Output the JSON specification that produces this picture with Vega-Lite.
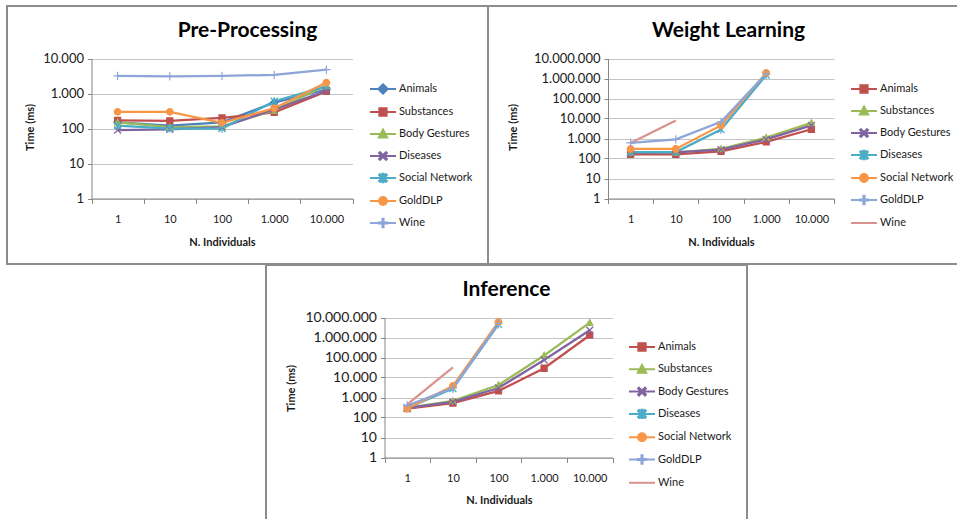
{
  "$schema": "https://vega.github.io/schema/vega-lite/v6.json",
  "padding": {"left": 6, "top": 5, "right": 0, "bottom": 0},
  "spacing": -1,
  "config": {
    "font": "Lato",
    "view": {"stroke": "#8c8c8c", "strokeWidth": 2},
    "axis": {"labelFont": "Lato", "titleFont": "Lato", "labelColor": "#1a1a1a", "titleColor": "#1a1a1a", "domainColor": "#868686", "tickColor": "#868686", "gridColor": "#c4c4c4", "domainWidth": 1, "gridWidth": 1},
    "legend": {"labelFont": "Lato", "labelFontSize": 11, "labelColor": "#1a1a1a"}
  },
  "datasets": {
    "pre": [
      {"series": "Animals", "n": 1, "time": 150}, {"series": "Animals", "n": 10, "time": 120}, {"series": "Animals", "n": 100, "time": 150}, {"series": "Animals", "n": 1000, "time": 550}, {"series": "Animals", "n": 10000, "time": 1300},
      {"series": "Substances", "n": 1, "time": 170}, {"series": "Substances", "n": 10, "time": 165}, {"series": "Substances", "n": 100, "time": 200}, {"series": "Substances", "n": 1000, "time": 290}, {"series": "Substances", "n": 10000, "time": 1150},
      {"series": "Body Gestures", "n": 1, "time": 150}, {"series": "Body Gestures", "n": 10, "time": 110}, {"series": "Body Gestures", "n": 100, "time": 115}, {"series": "Body Gestures", "n": 1000, "time": 330}, {"series": "Body Gestures", "n": 10000, "time": 1700},
      {"series": "Diseases", "n": 1, "time": 90}, {"series": "Diseases", "n": 10, "time": 95}, {"series": "Diseases", "n": 100, "time": 110}, {"series": "Diseases", "n": 1000, "time": 350}, {"series": "Diseases", "n": 10000, "time": 1200},
      {"series": "Social Network", "n": 1, "time": 120}, {"series": "Social Network", "n": 10, "time": 100}, {"series": "Social Network", "n": 100, "time": 100}, {"series": "Social Network", "n": 1000, "time": 600}, {"series": "Social Network", "n": 10000, "time": 1600},
      {"series": "GoldDLP", "n": 1, "time": 300}, {"series": "GoldDLP", "n": 10, "time": 300}, {"series": "GoldDLP", "n": 100, "time": 145}, {"series": "GoldDLP", "n": 1000, "time": 380}, {"series": "GoldDLP", "n": 10000, "time": 2050},
      {"series": "Wine", "n": 1, "time": 3200}, {"series": "Wine", "n": 10, "time": 3100}, {"series": "Wine", "n": 100, "time": 3200}, {"series": "Wine", "n": 1000, "time": 3400}, {"series": "Wine", "n": 10000, "time": 4800}
    ],
    "weight": [
      {"series": "Animals", "n": 1, "time": 160}, {"series": "Animals", "n": 10, "time": 160}, {"series": "Animals", "n": 100, "time": 230}, {"series": "Animals", "n": 1000, "time": 680}, {"series": "Animals", "n": 10000, "time": 2900},
      {"series": "Substances", "n": 1, "time": 200}, {"series": "Substances", "n": 10, "time": 200}, {"series": "Substances", "n": 100, "time": 300}, {"series": "Substances", "n": 1000, "time": 1100}, {"series": "Substances", "n": 10000, "time": 6000},
      {"series": "Body Gestures", "n": 1, "time": 190}, {"series": "Body Gestures", "n": 10, "time": 200}, {"series": "Body Gestures", "n": 100, "time": 280}, {"series": "Body Gestures", "n": 1000, "time": 900}, {"series": "Body Gestures", "n": 10000, "time": 4500},
      {"series": "Diseases", "n": 1, "time": 210}, {"series": "Diseases", "n": 10, "time": 210}, {"series": "Diseases", "n": 100, "time": 2800}, {"series": "Diseases", "n": 1000, "time": 1500000},
      {"series": "Social Network", "n": 1, "time": 300}, {"series": "Social Network", "n": 10, "time": 300}, {"series": "Social Network", "n": 100, "time": 4500}, {"series": "Social Network", "n": 1000, "time": 1900000},
      {"series": "GoldDLP", "n": 1, "time": 600}, {"series": "GoldDLP", "n": 10, "time": 900}, {"series": "GoldDLP", "n": 100, "time": 6800}, {"series": "GoldDLP", "n": 1000, "time": 1700000},
      {"series": "Wine", "n": 1, "time": 600}, {"series": "Wine", "n": 10, "time": 8000}
    ],
    "inf": [
      {"series": "Animals", "n": 1, "time": 280}, {"series": "Animals", "n": 10, "time": 520}, {"series": "Animals", "n": 100, "time": 2150}, {"series": "Animals", "n": 1000, "time": 29000}, {"series": "Animals", "n": 10000, "time": 1300000},
      {"series": "Substances", "n": 1, "time": 300}, {"series": "Substances", "n": 10, "time": 680}, {"series": "Substances", "n": 100, "time": 4200}, {"series": "Substances", "n": 1000, "time": 126000}, {"series": "Substances", "n": 10000, "time": 5500000},
      {"series": "Body Gestures", "n": 1, "time": 300}, {"series": "Body Gestures", "n": 10, "time": 600}, {"series": "Body Gestures", "n": 100, "time": 3000}, {"series": "Body Gestures", "n": 1000, "time": 75000}, {"series": "Body Gestures", "n": 10000, "time": 2300000},
      {"series": "Diseases", "n": 1, "time": 300}, {"series": "Diseases", "n": 10, "time": 2800}, {"series": "Diseases", "n": 100, "time": 4500000},
      {"series": "Social Network", "n": 1, "time": 280}, {"series": "Social Network", "n": 10, "time": 3800}, {"series": "Social Network", "n": 100, "time": 6000000},
      {"series": "GoldDLP", "n": 1, "time": 400}, {"series": "GoldDLP", "n": 10, "time": 3000}, {"series": "GoldDLP", "n": 100, "time": 5000000},
      {"series": "Wine", "n": 1, "time": 450}, {"series": "Wine", "n": 10, "time": 32000}
    ]
  },
  "resolve": {"scale": {"fill": "independent", "stroke": "independent", "shape": "independent"}, "legend": {"fill": "independent", "stroke": "independent", "shape": "independent"}},
  "vconcat": [
    {
      "hconcat": [
        {
          "width": 481, "height": 258,
          "data": {"name": "pre"},
          "title": {"text": "Pre-Processing", "frame": "group", "anchor": "middle", "offset": -52, "baseline": "alphabetic", "fontSize": 21, "font": "Lato", "fontWeight": "bold", "color": "#000"},
          "encoding": {
            "x": {"field": "n", "type": "ordinal", "bandPosition": 0.5,
              "scale": {"type": "band", "domain": [1, 10, 100, 1000, 10000], "range": [84.5, 345.5], "paddingInner": 0, "paddingOuter": 0},
              "axis": {"orient": "bottom", "offset": -65.5, "tickBand": "extent", "tickSize": 5, "labelPadding": 10, "labelAngle": 0, "labelFontSize": 11, "grid": false,
                "labelExpr": "!isValid(datum.value) || datum.extra ? '' : replace(replace(format(datum.value, ','), ',', '.'), ',', '.')",
                "title": "N. Individuals", "titleFontSize": 11, "titleFontWeight": "bold", "titleX": 215, "titleY": 44, "titleBaseline": "middle", "titleAlign": "center"}},
            "y": {"field": "time", "type": "quantitative",
              "scale": {"type": "log", "domain": [1, 10000], "range": [192.5, 52.5], "nice": false},
              "axis": {"orient": "left", "offset": -84.5, "values": [1, 10, 100, 1000, 10000], "grid": true, "tickSize": 4, "labelPadding": 4, "labelFontSize": 13,
                "labelExpr": "!isValid(datum.value) ? '' : replace(replace(format(datum.value, ','), ',', '.'), ',', '.')",
                "title": "Time (ms)", "titleFontSize": 11, "titleFontWeight": "bold", "titleX": -61.5, "titleY": 121, "titleAngle": 270, "titleAlign": "center", "titleBaseline": "middle"}}
          },
          "layer": [
            {"mark": {"type": "line", "strokeWidth": 2.25},
             "encoding": {"stroke": {"field": "series", "type": "nominal", "scale": {"domain": ["Animals", "Substances", "Body Gestures", "Diseases", "Social Network", "GoldDLP", "Wine"], "range": ["#4F81BD", "#C0504D", "#9BBB59", "#8064A2", "#4BACC6", "#F79646", "#8DA5D8"]},
               "legend": {"orient": "none", "legendX": 362, "legendY": 69, "title": null, "symbolSize": 676, "rowPadding": 0, "labelOffset": 2, "encode": {"symbols": {"update": {"strokeWidth": {"value": 2}}}}}}}},
            {"mark": {"type": "point", "filled": true, "strokeWidth": 0, "opacity": 1, "size": 676},
             "encoding": {
               "fill": {"field": "series", "type": "nominal", "scale": {"domain": ["Animals", "Substances", "Body Gestures", "Diseases", "Social Network", "GoldDLP", "Wine"], "range": ["#4F81BD", "#C0504D", "#9BBB59", "#8064A2", "#4BACC6", "#F79646", "#8DA5D8"]},
                 "legend": {"orient": "none", "legendX": 362, "legendY": 69, "title": null, "symbolSize": 676, "rowPadding": 0, "labelOffset": 2, "encode": {"symbols": {"update": {"strokeWidth": {"value": 2}}}}}},
               "stroke": {"field": "series", "type": "nominal", "scale": {"domain": ["Animals", "Substances", "Body Gestures", "Diseases", "Social Network", "GoldDLP", "Wine"], "range": ["#4F81BD", "#C0504D", "#9BBB59", "#8064A2", "#4BACC6", "#F79646", "#8DA5D8"]},
                 "legend": {"orient": "none", "legendX": 362, "legendY": 69, "title": null, "symbolSize": 676, "rowPadding": 0, "labelOffset": 2, "encode": {"symbols": {"update": {"strokeWidth": {"value": 2}}}}}},
               "shape": {"field": "series", "type": "nominal", "scale": {"domain": ["Animals", "Substances", "Body Gestures", "Diseases", "Social Network", "GoldDLP", "Wine"],
                 "range": ["M-1,0H1M0,-0.36L0.36,0L0,0.36L-0.36,0Z", "M-1,0H1M-0.28,-0.28H0.28V0.28H-0.28Z", "M-1,0H1M0,-0.34L0.32,0.26H-0.32Z", "M-1,0H1M-0.23,-0.3L0.3,0.23L0.23,0.3L-0.3,-0.23ZM0.23,-0.3L0.3,-0.23L-0.23,0.3L-0.3,0.23Z", "M-1,0H1M-0.23,-0.3L0.3,0.23L0.23,0.3L-0.3,-0.23ZM0.23,-0.3L0.3,-0.23L-0.23,0.3L-0.3,0.23ZM-0.045,-0.32H0.045V0.32H-0.045Z", "M-1,0H1M-0.3,0A0.3,0.3,0,1,0,0.3,0A0.3,0.3,0,1,0,-0.3,0Z", "M-1,0H1M-0.32,-0.045H0.32V0.045H-0.32ZM-0.045,-0.32H0.045V0.32H-0.045Z"]},
                 "legend": {"orient": "none", "legendX": 362, "legendY": 69, "title": null, "symbolSize": 676, "rowPadding": 0, "labelOffset": 2, "encode": {"symbols": {"update": {"strokeWidth": {"value": 2}}}}}}
             }}
          ]
        },
        {
          "width": 481, "height": 258,
          "data": {"name": "weight"},
          "title": {"text": "Weight Learning", "frame": "group", "anchor": "middle", "offset": -52, "baseline": "alphabetic", "fontSize": 21, "font": "Lato", "fontWeight": "bold", "color": "#000"},
          "encoding": {
            "x": {"field": "n", "type": "ordinal", "bandPosition": 0.5,
              "scale": {"type": "band", "domain": [1, 10, 100, 1000, 10000], "range": [120, 346], "paddingInner": 0, "paddingOuter": 0},
              "axis": {"orient": "bottom", "offset": -65.5, "tickBand": "extent", "tickSize": 5, "labelPadding": 10, "labelAngle": 0, "labelFontSize": 11, "grid": false,
                "labelExpr": "!isValid(datum.value) || datum.extra ? '' : replace(replace(format(datum.value, ','), ',', '.'), ',', '.')",
                "title": "N. Individuals", "titleFontSize": 11, "titleFontWeight": "bold", "titleX": 233, "titleY": 44, "titleBaseline": "middle", "titleAlign": "center"}},
            "y": {"field": "time", "type": "quantitative",
              "scale": {"type": "log", "domain": [1, 10000000], "range": [192.5, 52.5], "nice": false},
              "axis": {"orient": "left", "offset": -120, "values": [1, 10, 100, 1000, 10000, 100000, 1000000, 10000000], "grid": true, "tickSize": 4, "labelPadding": 4, "labelFontSize": 13,
                "labelExpr": "!isValid(datum.value) ? '' : replace(replace(format(datum.value, ','), ',', '.'), ',', '.')",
                "title": "Time (ms)", "titleFontSize": 11, "titleFontWeight": "bold", "titleX": -95, "titleY": 121, "titleAngle": 270, "titleAlign": "center", "titleBaseline": "middle"}}
          },
          "layer": [
            {"mark": {"type": "line", "strokeWidth": 2.25},
             "encoding": {"stroke": {"field": "series", "type": "nominal", "scale": {"domain": ["Animals", "Substances", "Body Gestures", "Diseases", "Social Network", "GoldDLP", "Wine"], "range": ["#C0504D", "#9BBB59", "#8064A2", "#4BACC6", "#F79646", "#8DA5D8", "#D9928F"]},
               "legend": {"orient": "none", "legendX": 362, "legendY": 69, "title": null, "symbolSize": 676, "rowPadding": 0, "labelOffset": 2, "encode": {"symbols": {"update": {"strokeWidth": {"value": 2}}}}}}}},
            {"mark": {"type": "point", "filled": true, "strokeWidth": 0, "opacity": 1, "size": 676},
             "encoding": {
               "fill": {"field": "series", "type": "nominal", "scale": {"domain": ["Animals", "Substances", "Body Gestures", "Diseases", "Social Network", "GoldDLP", "Wine"], "range": ["#C0504D", "#9BBB59", "#8064A2", "#4BACC6", "#F79646", "#8DA5D8", "#D9928F"]},
                 "legend": {"orient": "none", "legendX": 362, "legendY": 69, "title": null, "symbolSize": 676, "rowPadding": 0, "labelOffset": 2, "encode": {"symbols": {"update": {"strokeWidth": {"value": 2}}}}}},
               "stroke": {"field": "series", "type": "nominal", "scale": {"domain": ["Animals", "Substances", "Body Gestures", "Diseases", "Social Network", "GoldDLP", "Wine"], "range": ["#C0504D", "#9BBB59", "#8064A2", "#4BACC6", "#F79646", "#8DA5D8", "#D9928F"]},
                 "legend": {"orient": "none", "legendX": 362, "legendY": 69, "title": null, "symbolSize": 676, "rowPadding": 0, "labelOffset": 2, "encode": {"symbols": {"update": {"strokeWidth": {"value": 2}}}}}},
               "shape": {"field": "series", "type": "nominal", "scale": {"domain": ["Animals", "Substances", "Body Gestures", "Diseases", "Social Network", "GoldDLP", "Wine"],
                 "range": ["M-1,0H1M-0.28,-0.28H0.28V0.28H-0.28Z", "M-1,0H1M0,-0.34L0.32,0.26H-0.32Z", "M-1,0H1M-0.23,-0.3L0.3,0.23L0.23,0.3L-0.3,-0.23ZM0.23,-0.3L0.3,-0.23L-0.23,0.3L-0.3,0.23Z", "M-1,0H1M-0.23,-0.3L0.3,0.23L0.23,0.3L-0.3,-0.23ZM0.23,-0.3L0.3,-0.23L-0.23,0.3L-0.3,0.23ZM-0.045,-0.32H0.045V0.32H-0.045Z", "M-1,0H1M-0.3,0A0.3,0.3,0,1,0,0.3,0A0.3,0.3,0,1,0,-0.3,0Z", "M-1,0H1M-0.32,-0.045H0.32V0.045H-0.32ZM-0.045,-0.32H0.045V0.32H-0.045Z", "M-1,0H1"]},
                 "legend": {"orient": "none", "legendX": 362, "legendY": 69, "title": null, "symbolSize": 676, "rowPadding": 0, "labelOffset": 2, "encode": {"symbols": {"update": {"strokeWidth": {"value": 2}}}}}}
             }}
          ]
        }
      ],
      "spacing": 0,
      "bounds": "flush",
      "resolve": {"scale": {"fill": "independent", "stroke": "independent", "shape": "independent"}, "legend": {"fill": "independent", "stroke": "independent", "shape": "independent"}}
    },
    {
      "hconcat": [
        {"width": 259, "height": 258, "data": {"values": []}, "mark": "point", "view": {"stroke": null, "fill": "white"}},
        {
          "width": 481, "height": 258,
          "data": {"name": "inf"},
          "title": {"text": "Inference", "frame": "group", "anchor": "middle", "offset": -52, "baseline": "alphabetic", "fontSize": 21, "font": "Lato", "fontWeight": "bold", "color": "#000"},
          "encoding": {
            "x": {"field": "n", "type": "ordinal", "bandPosition": 0.5,
              "scale": {"type": "band", "domain": [1, 10, 100, 1000, 10000], "range": [118.5, 346.5], "paddingInner": 0, "paddingOuter": 0},
              "axis": {"orient": "bottom", "offset": -65.5, "tickBand": "extent", "tickSize": 5, "labelPadding": 10, "labelAngle": 0, "labelFontSize": 11, "grid": false,
                "labelExpr": "!isValid(datum.value) || datum.extra ? '' : replace(replace(format(datum.value, ','), ',', '.'), ',', '.')",
                "title": "N. Individuals", "titleFontSize": 11, "titleFontWeight": "bold", "titleX": 233, "titleY": 43, "titleBaseline": "middle", "titleAlign": "center"}},
            "y": {"field": "time", "type": "quantitative",
              "scale": {"type": "log", "domain": [1, 10000000], "range": [192.5, 52.5], "nice": false},
              "axis": {"orient": "left", "offset": -118.5, "values": [1, 10, 100, 1000, 10000, 100000, 1000000, 10000000], "grid": true, "tickSize": 4, "labelPadding": 4, "labelFontSize": 14,
                "labelExpr": "!isValid(datum.value) ? '' : replace(replace(format(datum.value, ','), ',', '.'), ',', '.')",
                "title": "Time (ms)", "titleFontSize": 11, "titleFontWeight": "bold", "titleX": -93.5, "titleY": 123, "titleAngle": 270, "titleAlign": "center", "titleBaseline": "middle"}}
          },
          "layer": [
            {"mark": {"type": "line", "strokeWidth": 2.25},
             "encoding": {"stroke": {"field": "series", "type": "nominal", "scale": {"domain": ["Animals", "Substances", "Body Gestures", "Diseases", "Social Network", "GoldDLP", "Wine"], "range": ["#C0504D", "#9BBB59", "#8064A2", "#4BACC6", "#F79646", "#8DA5D8", "#D9928F"]},
               "legend": {"orient": "none", "legendX": 362, "legendY": 68, "title": null, "symbolSize": 676, "rowPadding": 0.3, "labelOffset": 2, "encode": {"symbols": {"update": {"strokeWidth": {"value": 2}}}}}}}},
            {"mark": {"type": "point", "filled": true, "strokeWidth": 0, "opacity": 1, "size": 676},
             "encoding": {
               "fill": {"field": "series", "type": "nominal", "scale": {"domain": ["Animals", "Substances", "Body Gestures", "Diseases", "Social Network", "GoldDLP", "Wine"], "range": ["#C0504D", "#9BBB59", "#8064A2", "#4BACC6", "#F79646", "#8DA5D8", "#D9928F"]},
                 "legend": {"orient": "none", "legendX": 362, "legendY": 68, "title": null, "symbolSize": 676, "rowPadding": 0.3, "labelOffset": 2, "encode": {"symbols": {"update": {"strokeWidth": {"value": 2}}}}}},
               "stroke": {"field": "series", "type": "nominal", "scale": {"domain": ["Animals", "Substances", "Body Gestures", "Diseases", "Social Network", "GoldDLP", "Wine"], "range": ["#C0504D", "#9BBB59", "#8064A2", "#4BACC6", "#F79646", "#8DA5D8", "#D9928F"]},
                 "legend": {"orient": "none", "legendX": 362, "legendY": 68, "title": null, "symbolSize": 676, "rowPadding": 0.3, "labelOffset": 2, "encode": {"symbols": {"update": {"strokeWidth": {"value": 2}}}}}},
               "shape": {"field": "series", "type": "nominal", "scale": {"domain": ["Animals", "Substances", "Body Gestures", "Diseases", "Social Network", "GoldDLP", "Wine"],
                 "range": ["M-1,0H1M-0.28,-0.28H0.28V0.28H-0.28Z", "M-1,0H1M0,-0.34L0.32,0.26H-0.32Z", "M-1,0H1M-0.23,-0.3L0.3,0.23L0.23,0.3L-0.3,-0.23ZM0.23,-0.3L0.3,-0.23L-0.23,0.3L-0.3,0.23Z", "M-1,0H1M-0.23,-0.3L0.3,0.23L0.23,0.3L-0.3,-0.23ZM0.23,-0.3L0.3,-0.23L-0.23,0.3L-0.3,0.23ZM-0.045,-0.32H0.045V0.32H-0.045Z", "M-1,0H1M-0.3,0A0.3,0.3,0,1,0,0.3,0A0.3,0.3,0,1,0,-0.3,0Z", "M-1,0H1M-0.32,-0.045H0.32V0.045H-0.32ZM-0.045,-0.32H0.045V0.32H-0.045Z", "M-1,0H1"]},
                 "legend": {"orient": "none", "legendX": 362, "legendY": 68, "title": null, "symbolSize": 676, "rowPadding": 0.3, "labelOffset": 2, "encode": {"symbols": {"update": {"strokeWidth": {"value": 2}}}}}}
             }}
          ]
        }
      ],
      "spacing": 0,
      "bounds": "flush",
      "resolve": {"scale": {"fill": "independent", "stroke": "independent", "shape": "independent"}, "legend": {"fill": "independent", "stroke": "independent", "shape": "independent"}}
    }
  ]
}
